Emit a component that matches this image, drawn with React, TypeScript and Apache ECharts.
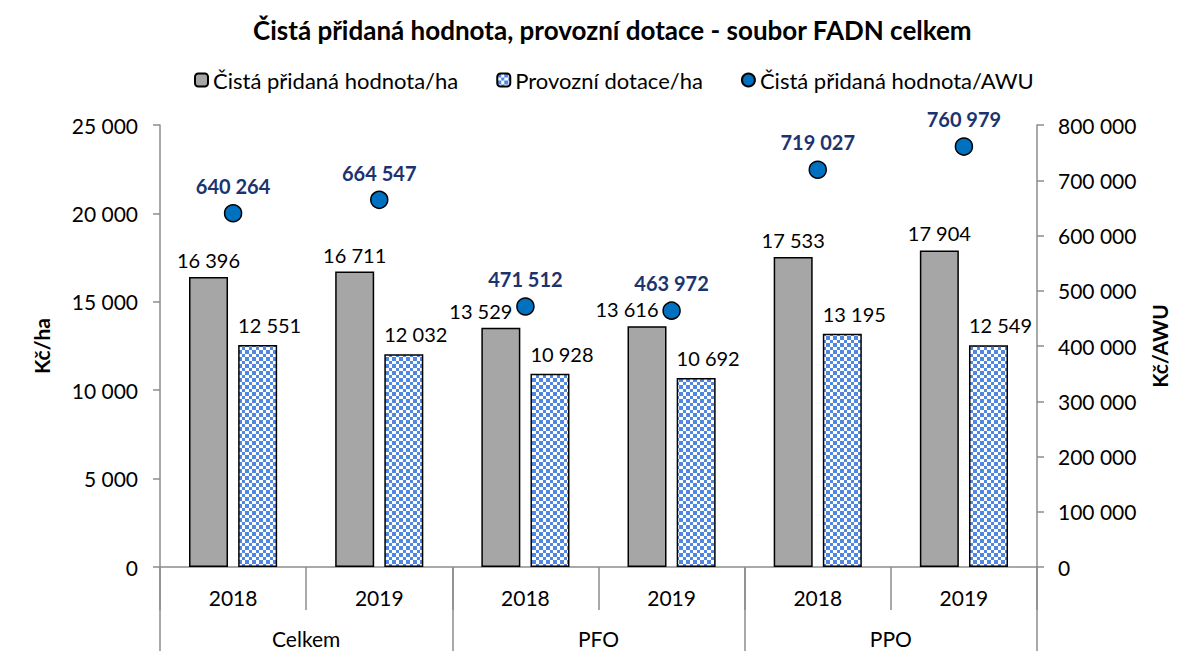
import React, { useEffect, useRef } from "react";
import * as echarts from "echarts";

const categories = ["2018", "2019", "2018", "2019", "2018", "2019"];
const groups = ["Celkem", "PFO", "PPO"];
const netValueHa = [16396, 16711, 13529, 13616, 17533, 17904];
const subsidiesHa = [12551, 12032, 10928, 10692, 13195, 12549];
const netValueAwu = [640264, 664547, 471512, 463972, 719027, 760979];
const seriesNames = [
  "Čistá přidaná hodnota/ha",
  "Provozní dotace/ha",
  "Čistá přidaná hodnota/AWU",
];

const FONT = "Lato";
const fmt = (v: number) =>
  String(Math.round(v)).replace(/\B(?=(\d{3})+(?!\d))/g, " ");

function makeChecker() {
  const c = document.createElement("canvas");
  c.width = 7;
  c.height = 7;
  const ctx = c.getContext("2d")!;
  ctx.fillStyle = "#ffffff";
  ctx.fillRect(0, 0, 7, 7);
  ctx.fillStyle = "#4F87E3";
  ctx.fillRect(0, 0, 4, 4);
  ctx.fillRect(4, 4, 3, 3);
  return c;
}

export default function App() {
  const ref = useRef<HTMLDivElement>(null);
  useEffect(() => {
    document.body.style.margin = "0";
    const chart = echarts.init(ref.current!, undefined, { renderer: "svg" });
    const pattern = { image: makeChecker(), repeat: "repeat" } as any;
    const axisColor = "#8C8C8C";
    // label placement tweaks (PFO grey labels were moved left in the original)
    const greyData = netValueHa.map((v, i) =>
      i === 2 || i === 3 ? { value: v, label: { offset: [-20, 0] } } : v
    );
    chart.setOption({
      animation: false,
      textStyle: { fontFamily: FONT },
      title: {
        text: "Čistá přidaná hodnota, provozní dotace - soubor FADN celkem",
        left: 248,
        top: 12,
        textStyle: { fontSize: 26, fontWeight: "bold", color: "#000", fontFamily: FONT },
      },
      legend: {
        top: 64,
        left: 189,
        itemWidth: 13,
        itemHeight: 13,
        itemGap: 38,
        textStyle: { fontSize: 22, color: "#000", fontFamily: FONT },
        data: seriesNames,
      },
      grid: { left: 160, right: 157, top: 125, bottom: 84, containLabel: false },
      xAxis: [
        {
          type: "category",
          data: categories,
          position: "bottom",
          axisLine: { show: true, lineStyle: { color: axisColor, width: 1.5 } },
          axisTick: { show: true, length: 43, lineStyle: { color: axisColor, width: 1.5 } },
          axisLabel: { margin: 20, fontSize: 21, color: "#000", fontFamily: FONT },
        },
        {
          type: "category",
          data: groups,
          position: "bottom",
          offset: 0,
          axisLine: { show: false },
          axisTick: { show: true, length: 84, lineStyle: { color: axisColor, width: 1.5 } },
          axisLabel: { margin: 61, fontSize: 21, color: "#000", fontFamily: FONT },
        },
      ],
      yAxis: [
        {
          type: "value",
          min: 0,
          max: 25000,
          interval: 5000,
          name: "Kč/ha",
          nameLocation: "middle",
          nameRotate: 90,
          nameGap: 108,
          nameTextStyle: { fontSize: 21, fontWeight: "bold", color: "#000", fontFamily: FONT },
          axisLine: { show: true, lineStyle: { color: axisColor, width: 1.5 } },
          axisTick: { show: true, length: 7, lineStyle: { color: axisColor, width: 1.5 } },
          splitLine: { show: false },
          axisLabel: { margin: 22, fontSize: 21, color: "#000", fontFamily: FONT, formatter: fmt },
        },
        {
          type: "value",
          min: 0,
          max: 800000,
          interval: 100000,
          position: "right",
          name: "Kč/AWU",
          nameLocation: "middle",
          nameRotate: 90,
          nameGap: 112,
          nameTextStyle: { fontSize: 21, fontWeight: "bold", color: "#000", fontFamily: FONT },
          axisLine: { show: true, lineStyle: { color: axisColor, width: 1.5 } },
          axisTick: { show: true, length: 7, lineStyle: { color: axisColor, width: 1.5 } },
          splitLine: { show: false },
          axisLabel: { margin: 21, fontSize: 21, color: "#000", fontFamily: FONT, formatter: fmt },
        },
      ],
      series: [
        {
          name: seriesNames[0],
          type: "bar",
          data: greyData,
          barWidth: 39,
          barGap: "26%",
          itemStyle: { color: "#A6A6A6", borderColor: "#000", borderWidth: 1.5 },
          label: {
            show: true,
            position: "top",
            distance: 7,
            fontSize: 20,
            color: "#000",
            fontFamily: FONT,
            formatter: (p: any) => fmt(p.value),
          },
        },
        {
          name: seriesNames[1],
          type: "bar",
          data: subsidiesHa,
          barWidth: 39,
          itemStyle: { color: pattern, borderColor: "#000", borderWidth: 1.5 },
          label: {
            show: true,
            position: "top",
            distance: 10,
            offset: [12, 0],
            fontSize: 20,
            color: "#000",
            fontFamily: FONT,
            formatter: (p: any) => fmt(p.value),
          },
        },
        {
          name: seriesNames[2],
          type: "scatter",
          yAxisIndex: 1,
          data: netValueAwu,
          symbol: "circle",
          symbolSize: 17,
          itemStyle: { color: "#0070C0", borderColor: "#000", borderWidth: 1.5, opacity: 1 },
          label: {
            show: true,
            position: "top",
            distance: 8,
            fontSize: 20,
            fontWeight: "bold",
            color: "#1B3470",
            fontFamily: FONT,
            formatter: (p: any) => fmt(p.value),
          },
        },
      ],
    });
    return () => chart.dispose();
  }, []);
  return <div ref={ref} style={{ width: 1194, height: 651 }} />;
}
